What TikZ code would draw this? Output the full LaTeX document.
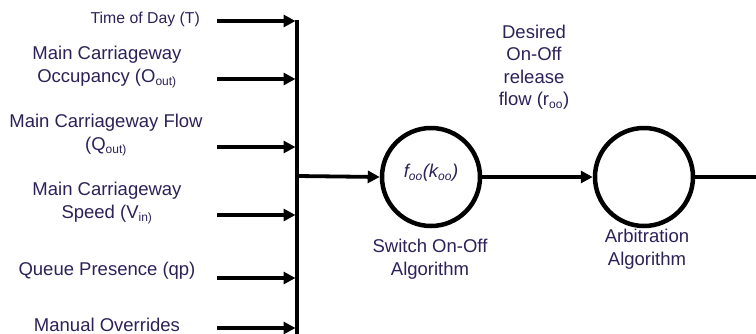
\documentclass[tikz,border=0pt]{standalone}
\usepackage{fontspec}
\setmainfont{Liberation Sans}
\usetikzlibrary{arrows.meta}
\definecolor{txt}{RGB}{45,33,88}
\begin{document}
\begin{tikzpicture}[x=1pt,y=-1pt,
  lbl/.style={text=txt,font=\fontsize{18.5}{22.5}\selectfont,align=center,inner sep=0pt},
  small/.style={text=txt,font=\fontsize{15.8}{19}\selectfont,inner sep=0pt},
  wire/.style={line width=3.8pt,-{Triangle[length=12pt,width=12pt]}},
  algo/.style={circle,draw,line width=4.5pt,minimum size=98pt,inner sep=0pt}]
\useasboundingbox (0,0) rectangle (756,333);
% vertical bus
\coordinate (bt) at (297,19.5);
\coordinate (bb) at (297,340);
\draw[line width=3.8pt] (bt) -- (bb);
% input tips
\coordinate (i1) at (295.5,21);
\coordinate (i2) at (295.5,79);
\coordinate (i3) at (295.5,147);
\coordinate (i4) at (295.5,215);
\coordinate (i5) at (295.5,278);
\coordinate (i6) at (295.5,328);
\coordinate (s1) at (217,21);
\coordinate (s2) at (217,79);
\coordinate (s3) at (217,147);
\coordinate (s4) at (217,215);
\coordinate (s5) at (217,278);
\coordinate (s6) at (217,328);
\foreach \k in {1,...,6} \draw[wire] (s\k) -- (i\k);
% labels
\node[small,anchor=east] (l1) at (200,19) {Time of Day (T)};
\node[lbl] (l2) at (107,67) {Main Carriageway\\Occupancy (O\textsubscript{\fontsize{12}{12}\selectfont out)}};
\node[lbl] (l3) at (106,135) {Main Carriageway Flow\\(Q\textsubscript{\fontsize{12}{12}\selectfont out)}};
\node[lbl] (l4) at (107,203) {Main Carriageway\\Speed (V\textsubscript{\fontsize{12}{12}\selectfont in)}};
\node[lbl] (l5) at (107,271) {Queue Presence (qp)};
\node[lbl] (l6) at (107,325) {Manual Overrides};
% algorithms
\node[algo] (c1) at (431,177) {};
\node[text=txt,font=\fontsize{18.5}{22}\selectfont\itshape,inner sep=0pt] (f1) at (431,173) {f\textsubscript{\fontsize{12}{12}\selectfont oo}(k\textsubscript{\fontsize{12}{12}\selectfont oo})};
\node[algo] (c2) at (644,177) {};
\coordinate (bo) at (297,176);
\draw[wire] (bo) -- (c1.west);
\draw[wire] (c1.east) -- (c2.west);
\coordinate (out) at (770,177);
\draw[wire] (c2.east) -- (out);
\node[lbl] (d) at (534,67) {Desired\\On-Off\\release\\flow (r\textsubscript{\fontsize{12}{12}\selectfont oo})};
\node[lbl] (sw) at (430,259) {Switch On-Off\\Algorithm};
\node[lbl] (ar) at (647,249) {Arbitration\\Algorithm};
\end{tikzpicture}
\end{document}
